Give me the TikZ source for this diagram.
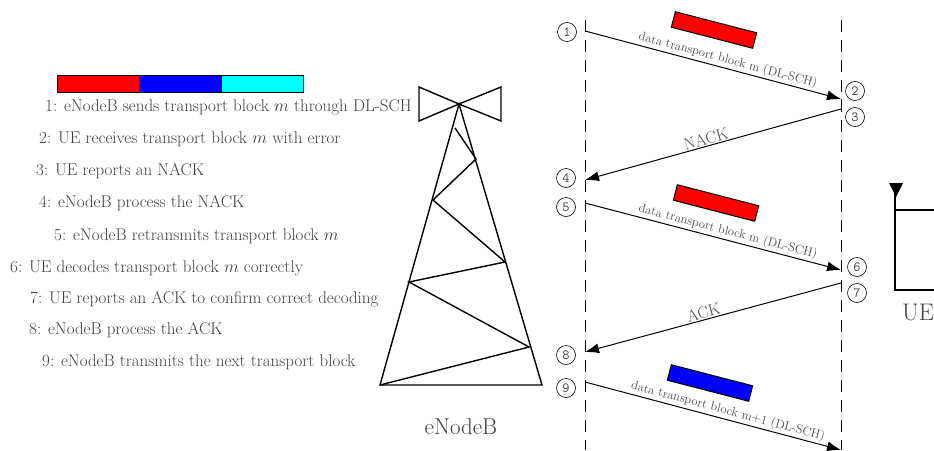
\documentclass[tikz,border=0pt]{standalone}
\usetikzlibrary{arrows.meta}
\definecolor{barcyan}{RGB}{0,255,255}
\begin{document}
\begin{tikzpicture}[x=1pt,y=-1pt,
  txt/.style={text=black!75,font=\fontsize{17}{19}\selectfont,anchor=west,inner sep=0pt},
  lifeline/.style={line width=1pt,dash pattern=on 12pt off 8pt},
  msg/.style={line width=1pt,-{Latex[length=14pt,width=10pt]}},
  msglabel/.style={text=black!70,font=\fontsize{12.5}{14}\selectfont,sloped,above,inner sep=1.5pt},
  acklabel/.style={text=black!70,font=\fontsize{16.5}{18}\selectfont,sloped,above,inner sep=1pt},
  stepnum/.style={circle,draw,line width=0.6pt,minimum size=19pt,inner sep=0pt,text=black!75,font=\ttfamily\fontsize{14}{14}\selectfont},
  tblock/.style={draw,line width=1pt,minimum width=84pt,minimum height=16pt,inner sep=0pt,rotate=-14.5},
  tower/.style={line width=1.4pt,line join=miter}]
\useasboundingbox (0,0) rectangle (934,450);
\clip (0,0) rectangle (934,450);

% colour bar of transport blocks
\node[draw,line width=1pt,fill=red,minimum width=82pt,minimum height=17pt,inner sep=0pt,anchor=north west] (barA) at (57,75) {};
\node[draw,line width=1pt,fill=blue,minimum width=82pt,minimum height=17pt,inner sep=0pt,anchor=north west] (barB) at (139,75) {};
\node[draw,line width=1pt,fill=barcyan,minimum width=82pt,minimum height=17pt,inner sep=0pt,anchor=north west] (barC) at (221,75) {};

% step list
\node[txt] (s1) at (45,107) {1: eNodeB sends transport block $m$ through DL-SCH};
\node[txt] (s2) at (39,139) {2: UE receives transport block $m$ with error};
\node[txt] (s3) at (36,171) {3: UE reports an NACK};
\node[txt] (s4) at (39,203) {4: eNodeB process the NACK};
\node[txt] (s5) at (54,236) {5: eNodeB retransmits transport block $m$};
\node[txt] (s6) at (10,268) {6: UE decodes transport block $m$ correctly};
\node[txt] (s7) at (30,299) {7: UE reports an ACK to confirm correct decoding};
\node[txt] (s8) at (29,330) {8: eNodeB process the ACK};
\node[txt] (s9) at (42,362) {9: eNodeB transmits the next transport block};

% eNodeB tower
\draw[tower] (459,104) -- (419,87) -- (419,121) -- cycle;
\draw[tower] (459,104) -- (501,87) -- (501,121) -- cycle;
\draw[tower] (459,104) -- (380,385) -- (542,385) -- cycle;
\draw[tower] (455,128) -- (476,159) -- (433,200) -- (505,262) -- (409,282) -- (529,347) -- (380,385);
\node[text=black!75,font=\fontsize{23}{25}\selectfont] (enb) at (461,427) {eNodeB};

% lifelines
\coordinate (L0) at (585,20);
\coordinate (L1) at (585,450);
\coordinate (R0) at (841,20);
\coordinate (R1) at (841,450);
\draw[lifeline] (L0) -- (L1);
\draw[lifeline] (R0) -- (R1);

% message end points
\coordinate (p1) at (585,31);
\coordinate (p2) at (841,99);
\coordinate (p3) at (841,109);
\coordinate (p4) at (585,180);
\coordinate (p5) at (585,203);
\coordinate (p6) at (841,270);
\coordinate (p7) at (841,283);
\coordinate (p8) at (585,352);
\coordinate (p9) at (585,382);
\coordinate (p10) at (841,450);

\draw[line width=1pt] (p2) -- (p3);

\draw[msg] (p1) -- node[msglabel,pos=0.55] {data transport block m (DL-SCH)} (p2);
\draw[msg] (p3) -- node[acklabel,pos=0.52] {NACK} (p4);
\draw[msg] (p5) -- node[msglabel,pos=0.55] {data transport block m (DL-SCH)} (p6);
\draw[msg] (p7) -- node[acklabel,pos=0.53] {ACK} (p8);
\draw[msg] (p9) -- node[msglabel,pos=0.55] {data transport block m+1 (DL-SCH)} (p10);

% transported blocks
\node[tblock,fill=red] (b1) at (714,30) {};
\node[tblock,fill=red] (b2) at (716,203) {};
\node[tblock,fill=blue] (b3) at (710,383) {};

% step markers
\node[stepnum] (n1) at (567,32) {1};
\node[stepnum] (n2) at (855,91) {2};
\node[stepnum] (n3) at (855,117) {3};
\node[stepnum] (n4) at (566,178) {4};
\node[stepnum] (n5) at (566,207) {5};
\node[stepnum] (n6) at (857,267) {6};
\node[stepnum] (n7) at (857,293) {7};
\node[stepnum] (n8) at (566,355) {8};
\node[stepnum] (n9) at (566,388) {9};

% UE terminal
\draw[line width=1.2pt] (895,190) -- (895,290) -- (960,290);
\draw[line width=1.2pt] (895,210) -- (960,210);
\fill (889,183) -- (903,183) -- (896,197) -- cycle;
\node[text=black!75,font=\fontsize{24}{26}\selectfont,anchor=west,inner sep=0pt] (ue) at (902,312) {UE};
\end{tikzpicture}
\end{document}
